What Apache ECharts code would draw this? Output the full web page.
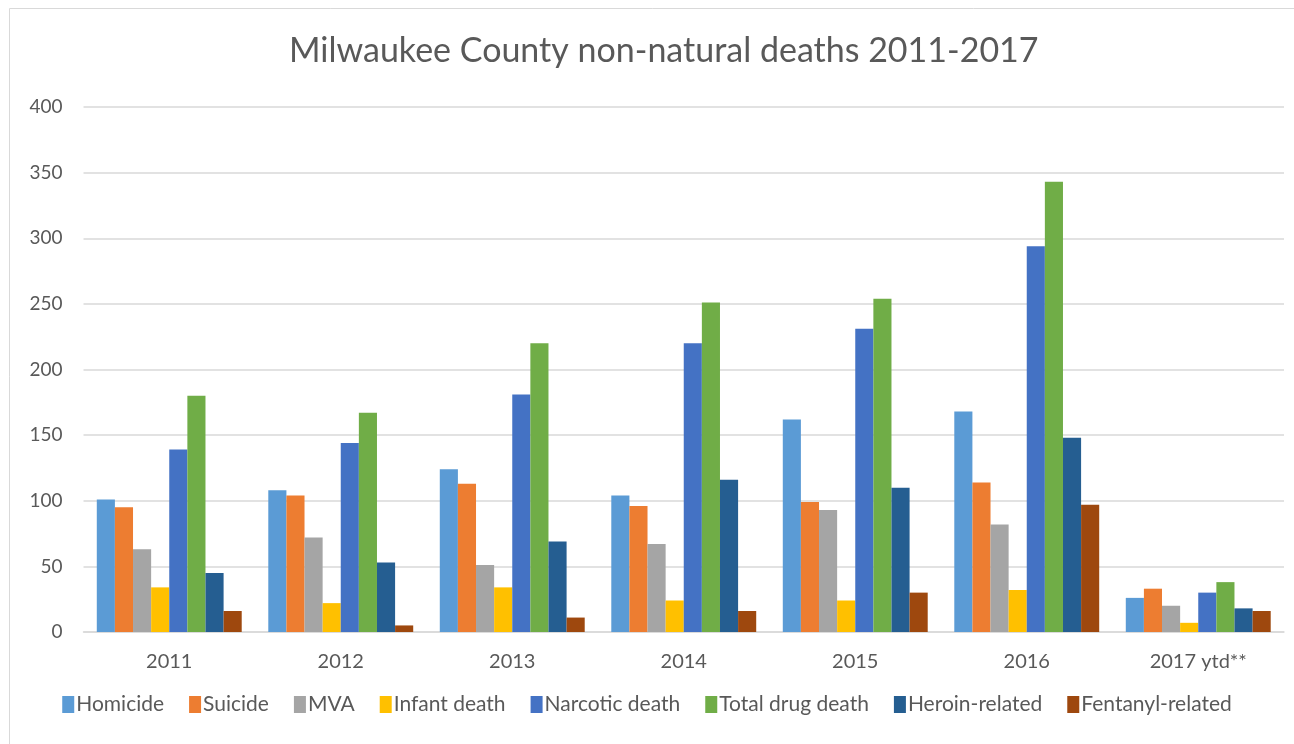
<!DOCTYPE html>
<html><head><meta charset="utf-8">
<script src="https://cdn.jsdelivr.net/npm/echarts@6/dist/echarts.min.js"></script>
<style>html,body{margin:0;padding:0;background:#fff}#c{width:1294px;height:744px}</style>
</head><body><div id="c"></div>
<script>
const categories = ['2011','2012','2013','2014','2015','2016','2017 ytd**'];
const seriesNames = ['Homicide','Suicide','MVA','Infant death','Narcotic death','Total drug death','Heroin-related','Fentanyl-related'];
const homicide = [101,108,124,104,162,168,26];
const suicide = [95,104,113,96,99,114,33];
const mva = [63,72,51,67,93,82,20];
const infant = [34,22,34,24,24,32,7];
const narcotic = [139,144,181,220,231,294,30];
const totalDrug = [180,167,220,251,254,343,38];
const heroin = [45,53,69,116,110,148,18];
const fentanyl = [16,5,11,16,30,97,16];
const colors = ['#5b9bd5','#ed7d31','#a5a5a5','#ffc000','#4472c4','#70ad47','#255e91','#9e480e'];
const values = [homicide,suicide,mva,infant,narcotic,totalDrug,heroin,fentanyl];
const font = 'Lato, "Open Sans", sans-serif';
const chart = echarts.init(document.getElementById('c'));
chart.setOption({
  animation:false,
  color: colors,
  graphic:[{type:'rect',shape:{x:9.5,y:8.5,width:1300,height:760},style:{fill:'none',stroke:'#d9d9d9',lineWidth:1}}],
  title:{text:'Milwaukee County non-natural deaths 2011-2017',left:284,top:29,
    textStyle:{fontFamily:font,fontSize:34,fontWeight:'normal',color:'#595959'}},
  legend:{bottom:24,left:'center',itemWidth:12,itemHeight:17,itemGap:25,icon:'rect',
    textStyle:{fontFamily:font,fontSize:21,color:'#595959',padding:[0,0,0,-3]},data:seriesNames},
  grid:{left:83.5,right:10,top:107,bottom:112,containLabel:false},
  xAxis:{type:'category',data:categories,axisTick:{show:false},
    axisLine:{lineStyle:{color:'#d9d9d9',width:1.5}},
    axisLabel:{fontFamily:font,fontSize:20,color:'#595959',margin:20}},
  yAxis:{type:'value',min:0,max:400,interval:50,
    axisLine:{show:false},axisTick:{show:false},
    splitLine:{lineStyle:{color:'#d9d9d9',width:1.5}},
    axisLabel:{fontFamily:font,fontSize:19,color:'#595959',margin:21}},
  series: seriesNames.map((n,i)=>({name:n,type:'bar',data:values[i],barGap:'0%',barCategoryGap:'15.5%'}))
});
</script></body></html>
